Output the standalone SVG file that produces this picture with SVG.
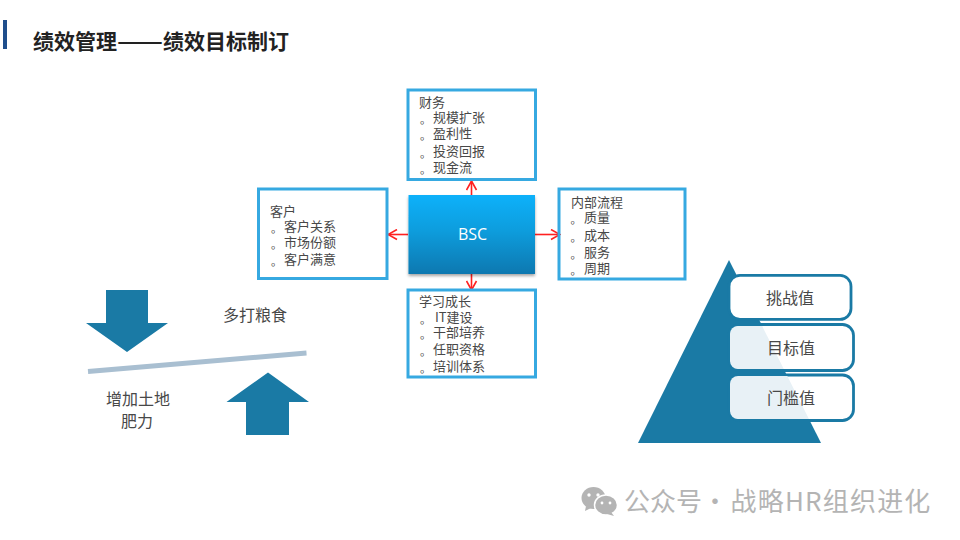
<svg xmlns="http://www.w3.org/2000/svg" width="960" height="540" viewBox="0 0 960 540">
<style>
text{font-family:"Noto Sans CJK SC","Noto Sans",sans-serif;fill:#484848}
.t{font-size:13px}
.d{font-size:11px}
.l{font-size:16px}
.b{fill:none;stroke:#36a9e1;stroke-width:3}
.c{stroke:#ff2020;stroke-width:1.6;fill:none}
.f{fill:#1a7aa5}
.v{fill:#fff;stroke:#1a7aa5;stroke-width:2.8}
</style>
<defs>
<linearGradient id="g" x1="0" y1="0" x2="0" y2="1"><stop offset="0" stop-color="#10b1fa"/><stop offset=".45" stop-color="#0b9ddd"/><stop offset="1" stop-color="#0a78b0"/></linearGradient>
<filter id="s" x="-10%" y="-10%" width="120%" height="125%"><feDropShadow dx="0" dy="2" stdDeviation="1.5" flood-color="#000" flood-opacity=".35"/></filter>
<marker id="a" viewBox="0 0 12 12" refX="11" refY="6" markerWidth="12" markerHeight="12" markerUnits="userSpaceOnUse" orient="auto"><path d="M2 1L11 6L2 11" fill="none" stroke="#ff2020" stroke-width="1.6"/></marker>
<clipPath id="tri"><polygon points="729,260 638,443 821,443"/></clipPath>
</defs>
<rect width="960" height="540" fill="#fff"/>
<g id="title">
<rect x="3" y="20" width="4" height="29" fill="#1f4e8c"/>
<text x="33" y="49" font-size="21" font-weight="700" style="fill:#222">绩效管理<tspan x="117" textLength="46" lengthAdjust="spacingAndGlyphs">——</tspan><tspan x="163">绩效目标制订</tspan></text>
</g>
<g id="connectors">
<line class="c" x1="471.5" y1="195" x2="471.5" y2="181" marker-end="url(#a)"/>
<line class="c" x1="408" y1="234.5" x2="388" y2="234.5" marker-end="url(#a)"/>
<line class="c" x1="535" y1="234.5" x2="560" y2="234.5" marker-end="url(#a)"/>
<line class="c" x1="471.5" y1="274" x2="471.5" y2="290" marker-end="url(#a)"/>
</g>
<g id="finance">
<rect class="b" x="408" y="90" width="127.500" height="89.500"/>
<text class="t" x="419" y="107">财务</text>
<text class="t" y="122"><tspan class="d" x="420" dy="1.500">。</tspan><tspan x="433" dy="-1.500">规模扩张</tspan></text>
<text class="t" y="138"><tspan class="d" x="420" dy="1.500">。</tspan><tspan x="433" dy="-1.500">盈利性</tspan></text>
<text class="t" y="156"><tspan class="d" x="420" dy="1.500">。</tspan><tspan x="433" dy="-1.500">投资回报</tspan></text>
<text class="t" y="172"><tspan class="d" x="420" dy="1.500">。</tspan><tspan x="433" dy="-1.500">现金流</tspan></text>
</g>
<g id="customer">
<rect class="b" x="258.500" y="189" width="128.500" height="89.500"/>
<text class="t" x="270" y="216">客户</text>
<text class="t" y="231"><tspan class="d" x="271" dy="1.500">。</tspan><tspan x="284" dy="-1.500">客户关系</tspan></text>
<text class="t" y="247"><tspan class="d" x="271" dy="1.500">。</tspan><tspan x="284" dy="-1.500">市场份额</tspan></text>
<text class="t" y="264"><tspan class="d" x="271" dy="1.500">。</tspan><tspan x="284" dy="-1.500">客户满意</tspan></text>
</g>
<g id="process">
<rect class="b" x="559" y="189" width="126" height="90"/>
<text class="t" x="571" y="207">内部流程</text>
<text class="t" y="222"><tspan class="d" x="570.500" dy="1.500">。</tspan><tspan x="584" dy="-1.500">质量</tspan></text>
<text class="t" y="240"><tspan class="d" x="570.500" dy="1.500">。</tspan><tspan x="584" dy="-1.500">成本</tspan></text>
<text class="t" y="257"><tspan class="d" x="570.500" dy="1.500">。</tspan><tspan x="584" dy="-1.500">服务</tspan></text>
<text class="t" y="273"><tspan class="d" x="570.500" dy="1.500">。</tspan><tspan x="584" dy="-1.500">周期</tspan></text>
</g>
<g id="learning">
<rect class="b" x="408" y="290" width="127.500" height="87"/>
<text class="t" x="419" y="306">学习成长</text>
<text class="t" y="322"><tspan class="d" x="420" dy="1.500">。</tspan><tspan x="435" dy="-1.500">IT建设</tspan></text>
<text class="t" y="337"><tspan class="d" x="420" dy="1.500">。</tspan><tspan x="433" dy="-1.500">干部培养</tspan></text>
<text class="t" y="354"><tspan class="d" x="420" dy="1.500">。</tspan><tspan x="433" dy="-1.500">任职资格</tspan></text>
<text class="t" y="371"><tspan class="d" x="420" dy="1.500">。</tspan><tspan x="433" dy="-1.500">培训体系</tspan></text>
</g>
<g id="bsc">
<rect x="408.500" y="195" width="126.500" height="79" fill="url(#g)" filter="url(#s)"/>
<text x="472.500" y="239.500" text-anchor="middle" font-size="16" style="font-family:'Open Sans',sans-serif;fill:#fff">BSC</text>
</g>
<g id="balance">
<polygon class="f" points="106,290 148,290 148,323 168,323 127,352 86,323 106,323"/>
<polygon class="f" points="268,372.500 309,402 289,402 289,435 246,435 246,402 226.500,402"/>
<line x1="88" y1="371.500" x2="306.500" y2="353" stroke="#a9bfd1" stroke-width="5"/>
<text class="l" x="223" y="321">多打粮食</text>
<text class="l" x="106" y="405">增加土地</text>
<text class="l" x="121" y="427">肥力</text>
</g>
<g id="pyramid">
<polygon class="f" points="729,260 638,443 821,443"/>
</g>
<g id="challenge">
<rect class="v" x="729" y="275.400" width="122" height="44" rx="11"/>
<text class="l" x="790" y="304" text-anchor="middle">挑战值</text>
</g>
<g id="target">
<rect class="v" x="729" y="324.500" width="124.500" height="46" rx="11"/>
<rect x="730" y="326" width="100" height="43" rx="8" fill="#e8f1f6" clip-path="url(#tri)"/>
<text class="l" x="791" y="354" text-anchor="middle">目标值</text>
</g>
<g id="threshold">
<rect class="v" x="729" y="375" width="124.500" height="45.500" rx="11"/>
<rect x="730" y="376" width="110" height="43" rx="8" fill="#e8f1f6" clip-path="url(#tri)"/>
<text class="l" x="791" y="404" text-anchor="middle">门槛值</text>
</g>
<g id="watermark">
<ellipse cx="593.500" cy="498" rx="12" ry="11" fill="#b4b4b4"/>
<path d="M586 506l-1 5l6-3z" fill="#b4b4b4"/>
<ellipse cx="606" cy="505" rx="11.500" ry="10" fill="#b4b4b4" stroke="#fff" stroke-width="1.500"/>
<path d="M611 512l3 4l-7-2z" fill="#b4b4b4"/>
<circle cx="589" cy="495" r="1.700" fill="#fff"/><circle cx="598" cy="495" r="1.700" fill="#fff"/>
<circle cx="602" cy="503" r="1.400" fill="#fff"/><circle cx="610" cy="503" r="1.400" fill="#fff"/>
<text x="624" y="511" font-size="26" style="fill:#b4b4b4">公众号<tspan x="702">·</tspan><tspan x="730.500" letter-spacing="1.200">战略HR组织进化</tspan></text>
</g>
</svg>
